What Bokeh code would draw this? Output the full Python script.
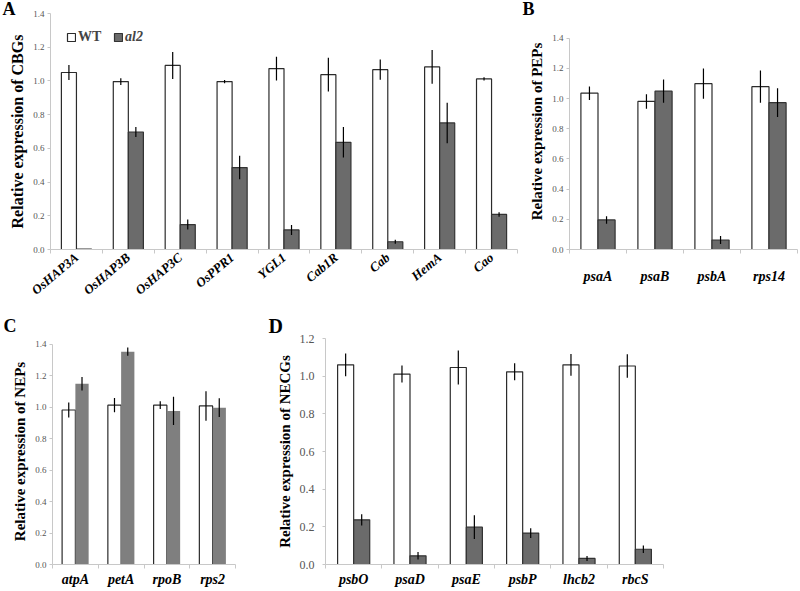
import math
from bokeh.plotting import figure
from bokeh.models import (ColumnDataSource, FixedTicker, Range1d, Title, Legend,
                          LegendItem, PrintfTickFormatter)
from bokeh.layouts import column, row
from bokeh.embed import file_html
from bokeh.resources import INLINE

SERIF = "Liberation Serif"

# ---- Panel A: CBGs
a_genes = ["OsHAP3A", "OsHAP3B", "OsHAP3C", "OsPPR1", "YGL1", "Cab1R", "Cab", "HemA", "Cao"]
a_wt = [1.05, 0.996, 1.092, 0.996, 1.073, 1.037, 1.067, 1.083, 1.012]
a_wt_err = [0.045, 0.02, 0.08, 0.01, 0.07, 0.10, 0.06, 0.10, 0.01]
a_al2 = [0.003, 0.697, 0.148, 0.486, 0.116, 0.636, 0.046, 0.751, 0.208]
a_al2_err = [0.0, 0.03, 0.03, 0.07, 0.03, 0.09, 0.012, 0.12, 0.013]

# ---- Panel B: PEPs
b_genes = ["psaA", "psaB", "psbA", "rps14"]
b_wt = [1.036, 0.981, 1.099, 1.079]
b_wt_err = [0.045, 0.048, 0.10, 0.107]
b_al2 = [0.196, 1.049, 0.063, 0.973]
b_al2_err = [0.025, 0.077, 0.027, 0.095]

# ---- Panel C: NEPs
c_genes = ["atpA", "petA", "rpoB", "rps2"]
c_wt = [0.983, 1.014, 1.014, 1.009]
c_wt_err = [0.048, 0.046, 0.024, 0.094]
c_al2 = [1.150, 1.354, 0.977, 0.998]
c_al2_err = [0.043, 0.026, 0.09, 0.06]

# ---- Panel D: NECGs
d_genes = ["psbO", "psaD", "psaE", "psbP", "lhcb2", "rbcS"]
d_wt = [1.060, 1.011, 1.046, 1.023, 1.060, 1.054]
d_wt_err = [0.06, 0.045, 0.09, 0.045, 0.058, 0.063]
d_al2 = [0.237, 0.046, 0.198, 0.167, 0.032, 0.081]
d_al2_err = [0.03, 0.02, 0.063, 0.026, 0.013, 0.02]

y_ticks_14 = [0.0, 0.2, 0.4, 0.6, 0.8, 1.0, 1.2, 1.4]
y_ticks_12 = [0.0, 0.2, 0.4, 0.6, 0.8, 1.0, 1.2]


def panel(genes, wt, wte, mu, mue, yaxis_max, yview_max, yticks, w, h, bl, br, bt, bb,
          ylabel, ylabel_size, ytick_size, ytick_standoff, xtick_size, xtick_standoff,
          rotate, al2_fill, al2_line, letter, loffset, lstandoff, lsize, bw=0.29):
    n = len(genes)
    p = figure(width=w, height=h, x_range=Range1d(0, n), y_range=Range1d(0, yview_max),
               output_backend="svg", toolbar_location=None, title=None,
               min_border_left=bl, min_border_right=br,
               min_border_top=bt, min_border_bottom=bb)
    p.outline_line_color = None
    p.grid.visible = False
    centers = [i + 0.5 for i in range(n)]
    src = ColumnDataSource(dict(
        xw=[c - bw / 2 for c in centers],
        xm=[c + bw / 2 for c in centers],
        wt=wt, mu=mu,
        wlo=[v - e for v, e in zip(wt, wte)], whi=[v + e for v, e in zip(wt, wte)],
        mlo=[max(v - e, 0) for v, e in zip(mu, mue)], mhi=[v + e for v, e in zip(mu, mue)],
    ))
    r_wt = p.vbar(x="xw", top="wt", bottom=0, width=bw, source=src,
                  fill_color="white", line_color="#2b2b2b", line_width=1.2)
    r_mu = p.vbar(x="xm", top="mu", bottom=0, width=bw, source=src,
                  fill_color=al2_fill, line_color=al2_line, line_width=1.2)
    p.segment(x0="xw", y0="wlo", x1="xw", y1="whi", source=src,
              line_color="black", line_width=1.2)
    p.segment(x0="xm", y0="mlo", x1="xm", y1="mhi", source=src,
              line_color="black", line_width=1.2)

    xa = p.xaxis[0]
    xa.ticker = FixedTicker(ticks=centers, minor_ticks=list(range(n + 1)))
    xa.major_label_overrides = {c: g for c, g in zip(centers, genes)}
    xa.major_tick_line_color = None
    xa.major_tick_out = 0
    xa.major_tick_in = 0
    xa.minor_tick_line_color = "#c8c8c8"
    xa.minor_tick_out = 4
    xa.minor_tick_in = 0
    xa.axis_line_color = "#c8c8c8"
    xa.major_label_text_font = SERIF
    xa.major_label_text_font_style = "bold italic"
    xa.major_label_text_font_size = xtick_size
    xa.major_label_text_color = "black"
    xa.major_label_standoff = xtick_standoff
    if rotate:
        xa.major_label_orientation = 0.70

    ya = p.yaxis[0]
    ya.ticker = FixedTicker(ticks=yticks)
    ya.bounds = (0, yaxis_max)
    ya.formatter = PrintfTickFormatter(format="%.1f")
    ya.axis_line_color = "#c8c8c8"
    ya.major_tick_line_color = "#c8c8c8"
    ya.major_tick_out = 3
    ya.major_tick_in = 0
    ya.minor_tick_line_color = None
    ya.major_label_text_font = SERIF
    ya.major_label_text_font_size = ytick_size
    ya.major_label_text_color = "#555555"
    ya.major_label_standoff = ytick_standoff
    ya.axis_label = ylabel
    ya.axis_label_text_font = SERIF
    ya.axis_label_text_font_style = "bold"
    ya.axis_label_text_font_size = ylabel_size
    ya.axis_label_text_color = "black"
    ya.axis_label_standoff = 4

    t = Title(text=letter, align="left", offset=loffset, text_font=SERIF,
              text_font_style="bold", text_font_size=lsize, text_color="black")
    try:
        t.standoff = lstandoff
    except Exception:
        t.standoff = 0
    p.add_layout(t, "above")
    return p, r_wt, r_mu


pA, rwA, rmA = panel(a_genes, a_wt, a_wt_err, a_al2, a_al2_err, 1.4, 1.4, y_ticks_14,
                     520, 306, 50, 3, 13, 54,
                     "Relative expression of CBGs", "16px", "9px", 3, "13px", 2, True,
                     "#6b6b6b", "#333333", "A", -48, -10, "18px")
legend_wt = Legend(items=[LegendItem(label="WT", renderers=[rwA])],
                   location=(16, 204), orientation="horizontal",
                   label_text_font=SERIF, label_text_font_style="bold",
                   label_text_font_size="14px", glyph_width=10, glyph_height=10,
                   label_standoff=2, padding=0, margin=0, border_line_color=None,
                   background_fill_alpha=0)
legend_mu = Legend(items=[LegendItem(label="al2", renderers=[rmA])],
                   location=(63, 204), orientation="horizontal",
                   label_text_font=SERIF, label_text_font_style="bold italic",
                   label_text_font_size="14px", glyph_width=10, glyph_height=10,
                   label_standoff=2, padding=0, margin=0, border_line_color=None,
                   background_fill_alpha=0)
pA.add_layout(legend_wt)
pA.add_layout(legend_mu)

pB, _, _ = panel(b_genes, b_wt, b_wt_err, b_al2, b_al2_err, 1.4, 1.564, y_ticks_14,
                 279, 306, 49, 2, 13, 54,
                 "Relative expression of PEPs", "15px", "9px", 3, "14px", 15, False,
                 "#6b6b6b", "#333333", "B", -47, -10, "18px", bw=0.30)

pC, _, _ = panel(c_genes, c_wt, c_wt_err, c_al2, c_al2_err, 1.4, 1.438, y_ticks_14,
                 240, 285, 52, 5, 32, 27,
                 "Relative expression of NEPs", "15px", "9px", 3, "14px", 3, False,
                 "#7f7f7f", None, "C", -49, 5, "18px")

pD, _, _ = panel(d_genes, d_wt, d_wt_err, d_al2, d_al2_err, 1.2, 1.2, y_ticks_12,
                 559, 285, 85, 136, 32, 27,
                 "Relative expression of NECGs", "15px", "12px", 8, "14px", 3, False,
                 "#6b6b6b", "#333333", "D", -57, 4, "20px", bw=0.285)

layout = column(row(pA, pB), row(pC, pD))
open("out.html", "w").write(file_html(layout, INLINE))
